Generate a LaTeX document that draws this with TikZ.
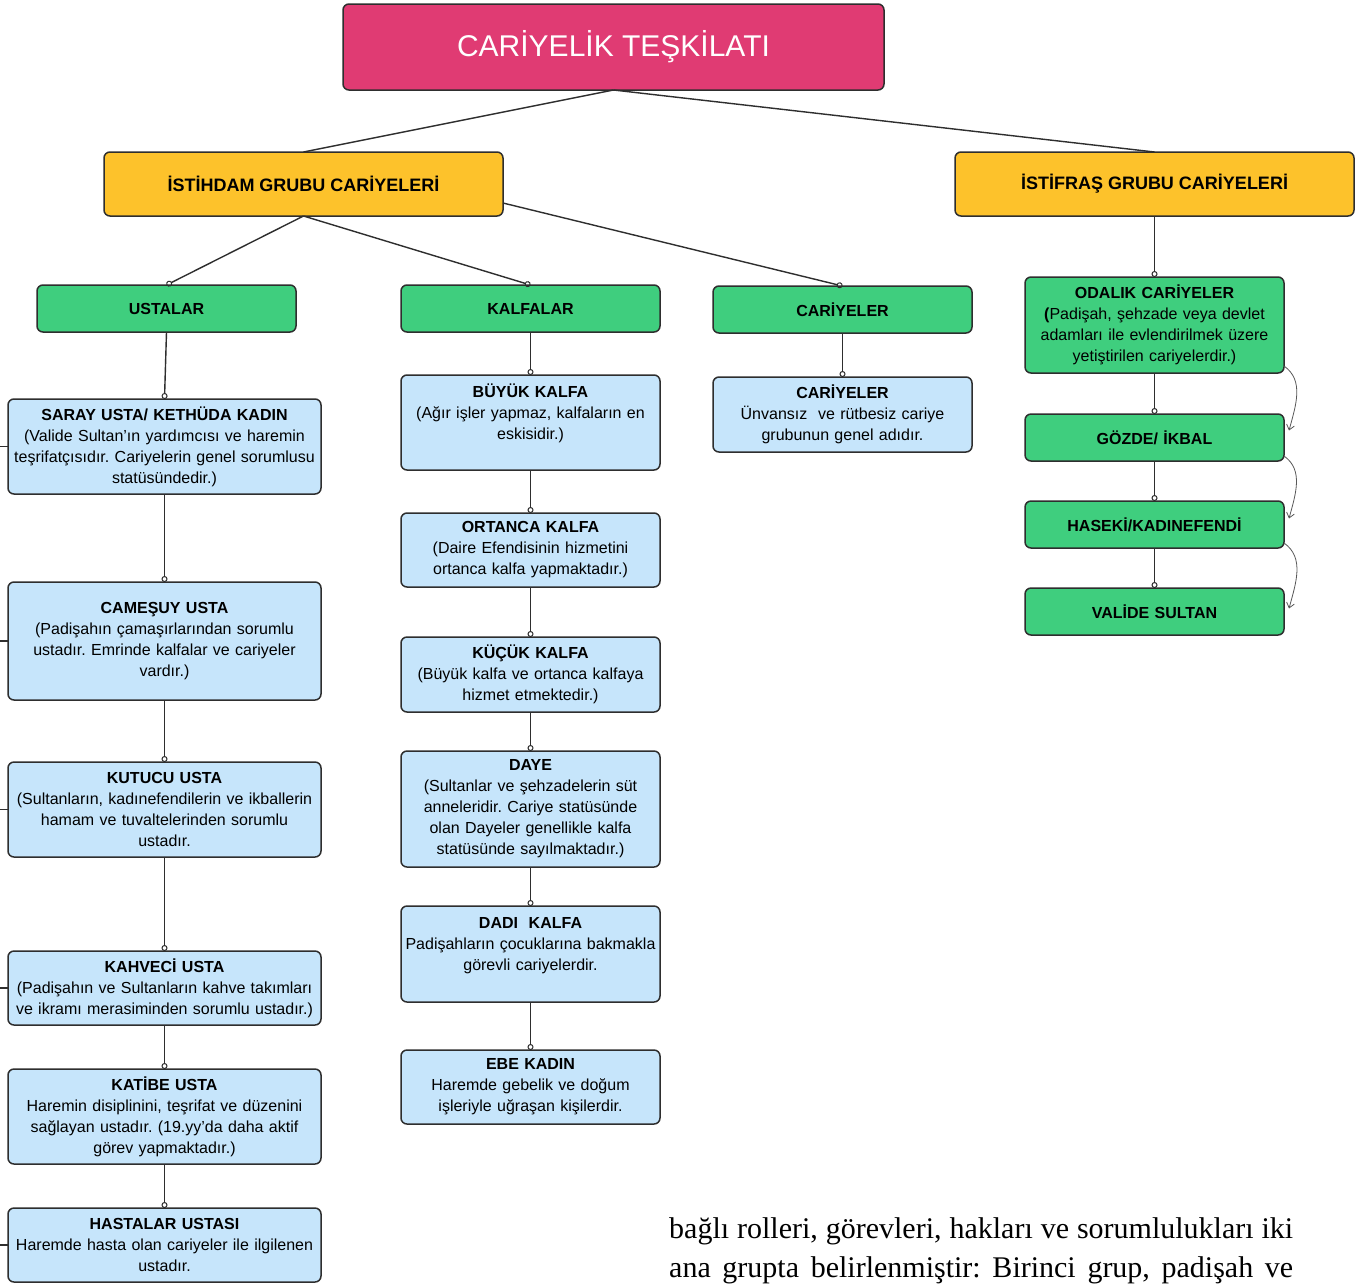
\documentclass[tikz,border=0pt]{standalone}
\usepackage{fontspec}
\setmainfont{Liberation Sans}
\newfontfamily\bodyserif{Liberation Serif}
\usepackage{xcolor}
\usepackage{tikz}
\usetikzlibrary{arrows.meta, positioning}
\frenchspacing
\definecolor{titlepink}{HTML}{E03B73}
\definecolor{groupyellow}{HTML}{FDC22B}
\definecolor{catgreen}{HTML}{3FCE7E}
\definecolor{roleblue}{HTML}{C6E5FB}
\definecolor{linegray}{HTML}{2E2E2E}
\tikzset{
    basebox/.style={rectangle, draw=linegray, line width=1.5pt, rounded corners=6pt, inner xsep=3pt, inner ysep=2pt, outer sep=0pt, text centered},
    headbox/.style={basebox, fill=titlepink, text=white, minimum width=541pt, minimum height=86pt, font=\fontsize{30}{36}\selectfont},
    groupbox/.style={basebox, fill=groupyellow, minimum width=399pt, minimum height=64pt, font=\bfseries\fontsize{18}{22}\selectfont},
    catbox/.style={basebox, fill=catgreen, minimum width=259pt, minimum height=47pt, text width=253pt, align=center, font=\fontsize{16}{21}\selectfont},
    rolebox/.style={basebox, fill=roleblue, minimum width=259pt, text width=253pt, align=center, font=\fontsize{16}{21}\selectfont},
    widerole/.style={rolebox, minimum width=313pt, text width=307pt},
    link/.style={draw=linegray, line width=1.4pt},
    tiplink/.style={link, -{Circle[open, length=6pt, width=6pt, line width=1pt]}},
    rankarrow/.style={draw=linegray!80, line width=0.8pt, -{Straight Barb[length=5pt, width=8pt]}},
}

\begin{document}
\begin{tikzpicture}[x=1pt, y=1pt]
    \fill[white] (0,0) rectangle (1364,-1283);
    \useasboundingbox (0,0) rectangle (1364,-1283);

    % TOP
    \node[headbox, anchor=north west] (title) at (343,-4) {CARİYELİK TEŞKİLATI};

    % GROUPS
    \node[groupbox, anchor=north west] (istihdam) at (104,-152) {İSTİHDAM GRUBU CARİYELERİ};
    \node[groupbox, anchor=north west] (istifras) at (955,-152) {İSTİFRAŞ GRUBU CARİYELERİ};

    % CATEGORIES
    \node[catbox, anchor=north west] (ustalar) at (37,-285) {\textbf{USTALAR}};
    \node[catbox, anchor=north west] (kalfalar) at (401,-285) {\textbf{KALFALAR}};
    \node[catbox, anchor=north west] (cariyeler) at (713,-286) {\textbf{CARİYELER}};

    % USTALAR
    \node[widerole, minimum height=95pt, below=67pt of ustalar, xshift=-2pt] (saray) {
        \textbf{SARAY USTA/ KETHÜDA KADIN}\\
        (Valide Sultan’ın yardımcısı ve haremin\\
        teşrifatçısıdır. Cariyelerin genel sorumlusu\\
        statüsündedir.)
    };
    \node[widerole, minimum height=118pt, below=88pt of saray] (camesuy) {
        \textbf{CAMEŞUY USTA}\\
        (Padişahın çamaşırlarından sorumlu\\
        ustadır. Emrinde kalfalar ve cariyeler\\
        vardır.)
    };
    \node[widerole, minimum height=95pt, below=62pt of camesuy] (kutucu) {
        \textbf{KUTUCU USTA}\\
        (Sultanların, kadınefendilerin ve ikballerin\\
        hamam ve tuvaltelerinden sorumlu\\
        ustadır.
    };
    \node[widerole, minimum height=74pt, below=94pt of kutucu] (kahveci) {
        \textbf{KAHVECİ USTA}\\
        (Padişahın ve Sultanların kahve takımları\\
        ve ikramı merasiminden sorumlu ustadır.)
    };
    \node[widerole, minimum height=95pt, below=44pt of kahveci] (katibe) {
        \textbf{KATİBE USTA}\\
        Haremin disiplinini, teşrifat ve düzenini\\
        sağlayan ustadır. (19.yy’da daha aktif\\
        görev yapmaktadır.)
    };
    \node[widerole, minimum height=74pt, below=44pt of katibe] (hastalar) {
        \textbf{HASTALAR USTASI}\\
        Haremde hasta olan cariyeler ile ilgilenen\\
        ustadır.
    };

    % KALFALAR
    \node[rolebox, minimum height=95pt, below=43pt of kalfalar] (buyuk) {
        \textbf{BÜYÜK KALFA}\\
        (Ağır işler yapmaz, kalfaların en\\
        eskisidir.)\\
        \mbox{}
    };
    \node[rolebox, minimum height=74pt, below=43pt of buyuk] (ortanca) {
        \textbf{ORTANCA KALFA}\\
        (Daire Efendisinin hizmetini\\
        ortanca kalfa yapmaktadır.)
    };
    \node[rolebox, minimum height=75pt, below=50pt of ortanca] (kucuk) {
        \textbf{KÜÇÜK KALFA}\\
        (Büyük kalfa ve ortanca kalfaya\\
        hizmet etmektedir.)
    };
    \node[rolebox, minimum height=116pt, below=39pt of kucuk] (daye) {
        \textbf{DAYE}\\
        (Sultanlar ve şehzadelerin süt\\
        anneleridir. Cariye statüsünde\\
        olan Dayeler genellikle kalfa\\
        statüsünde sayılmaktadır.)
    };
    \node[rolebox, minimum height=96pt, below=39pt of daye] (dadi) {
        \textbf{DADI~~KALFA}\\
        Padişahların çocuklarına bakmakla\\
        görevli cariyelerdir.\\
        \mbox{}
    };
    \node[rolebox, minimum height=74pt, below=48pt of dadi] (ebe) {
        \textbf{EBE KADIN}\\
        Haremde gebelik ve doğum\\
        işleriyle uğraşan kişilerdir.
    };

    % CARIYELER
    \node[rolebox, minimum height=75pt, below=44pt of cariyeler] (cariyelerinfo) {
        \textbf{CARİYELER}\\
        Ünvansız~~ve rütbesiz cariye\\
        grubunun genel adıdır.
    };

    % ISTIFRAS
    \node[catbox, minimum height=96pt, below=61pt of istifras] (odalik) {
        \textbf{ODALIK CARİYELER}\\
        \textbf{(}Padişah, şehzade veya devlet\\
        adamları ile evlendirilmek üzere\\
        yetiştirilen cariyelerdir.)
    };
    \node[catbox, below=41pt of odalik] (gozde) {\textbf{GÖZDE/ İKBAL}};
    \node[catbox, below=40pt of gozde] (haseki) {\textbf{HASEKİ/KADINEFENDİ}};
    \node[catbox, below=40pt of haseki] (valide) {\textbf{VALİDE SULTAN}};

    % Text below
    \node[anchor=base west, inner sep=0pt, align=left, font=\bodyserif\fontsize{30}{39}\selectfont] (bodytext) at (669,-1277) {
        \makebox[624pt][s]{bağlı rolleri, görevleri, hakları ve sorumlulukları iki}\\
        \makebox[624pt][s]{ana grupta belirlenmiştir: Birinci grup, padişah ve}
    };

    % Connectors
    \draw[link] (title.south) -- (istihdam.north);
    \draw[link] (title.south) -- (istifras.north);
    \draw[tiplink] (istihdam.south) -- (ustalar.north);
    \draw[tiplink] (istihdam.south) -- (kalfalar.north);
    \draw[tiplink] ([yshift=13pt]istihdam.south east) -- (cariyeler.north);
    \draw[tiplink] (istifras.south) -- (odalik.north);

    \foreach \a/\b in {ustalar/saray, saray/camesuy, camesuy/kutucu, kutucu/kahveci, kahveci/katibe, katibe/hastalar,
                       kalfalar/buyuk, buyuk/ortanca, ortanca/kucuk, kucuk/daye, daye/dadi, dadi/ebe,
                       cariyeler/cariyelerinfo, odalik/gozde, gozde/haseki, haseki/valide}
        \draw[tiplink] (\a.south) -- (\b.north);

    % Rank arrows
    \draw[rankarrow] ([yshift=7pt]odalik.south east) to[out=-35, in=75] ([xshift=5pt, yshift=7pt]gozde.east);
    \draw[rankarrow] ([yshift=5pt]gozde.south east) to[out=-35, in=75] ([xshift=5pt, yshift=6pt]haseki.east);
    \draw[rankarrow] ([yshift=5pt]haseki.south east) to[out=-35, in=75] ([xshift=5pt, yshift=3pt]valide.east);

    % Stubs at the left edge
    \foreach \b in {saray, camesuy, kutucu, kahveci, hastalar}
        \draw[link] (\b.west) -- ++(-9pt,0);
\end{tikzpicture}
\end{document}
